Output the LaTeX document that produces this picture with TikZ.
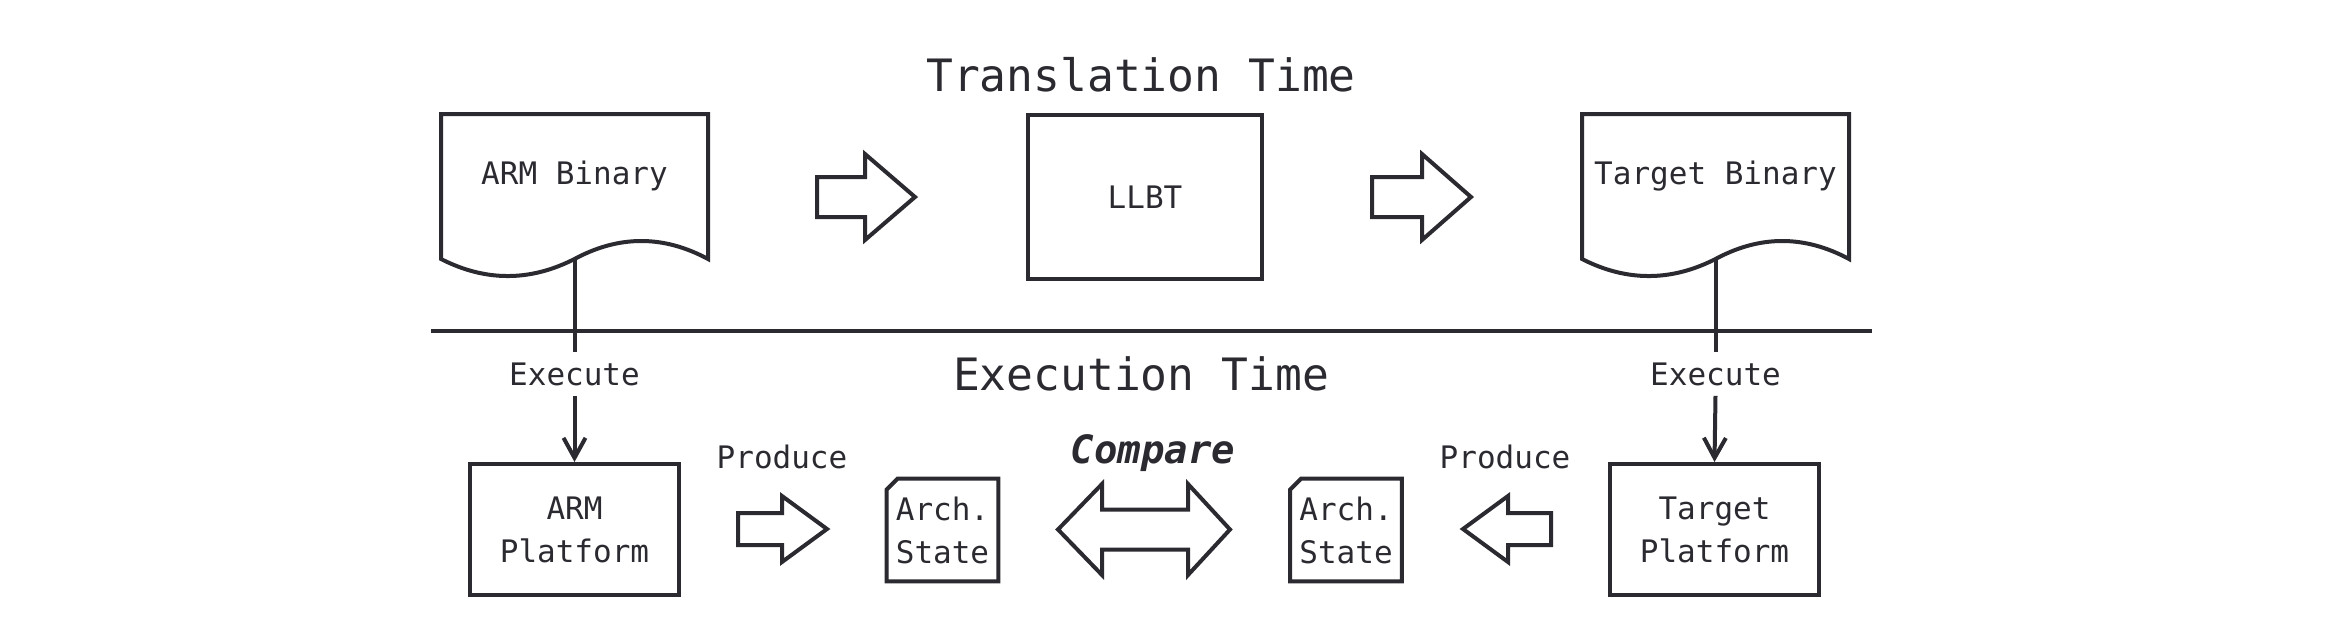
\documentclass[tikz,border=0pt]{standalone}
\usepackage{fontspec}
\setmainfont{DejaVu Sans Mono}
\usetikzlibrary{arrows.meta,calc}
\definecolor{ink}{RGB}{42,42,48}
\tikzset{
  shapeline/.style={draw=ink, line width=2pt, line join=miter},
  conn/.style={draw=ink, line width=2pt},
  txt/.style={text=ink, inner sep=0pt, font=\fontsize{15.5}{21.5}\selectfont},
  bigtxt/.style={text=ink, inner sep=0pt, font=\fontsize{22.3}{26}\selectfont},
  cmptxt/.style={text=ink, inner sep=0pt, font=\fontsize{19.5}{24}\selectfont\bfseries\itshape},
  boxnode/.style={draw=ink, line width=2pt, inner sep=0pt, align=center, text=ink,
     font=\fontsize{15.5}{21.5}\selectfont},
  plainbox/.style={inner sep=0pt, align=center, text=ink, font=\fontsize{15.5}{21.5}\selectfont},
  lbl/.style={txt, fill=white, inner xsep=2pt, inner ysep=5pt},
  tipv/.style={-{Straight Barb[length=10pt,width=11pt]}}
}
% right block arrow: xleft, xbase, xtip, yc, shaft half, head half
\newcommand\blkR[6]{\draw[shapeline] (#1,{#4-#5}) -- (#2,{#4-#5}) -- (#2,{#4-#6}) -- (#3,#4) -- (#2,{#4+#6}) -- (#2,{#4+#5}) -- (#1,{#4+#5}) -- cycle;}
% left block arrow: xtip, xbase, xright, yc, shaft half, head half
\newcommand\blkL[6]{\draw[shapeline] (#3,{#4-#5}) -- (#2,{#4-#5}) -- (#2,{#4-#6}) -- (#1,#4) -- (#2,{#4+#6}) -- (#2,{#4+#5}) -- (#3,{#4+#5}) -- cycle;}
% document shape: xc, half width, top, side bottom
\newcommand\docshape[4]{\draw[shapeline] ({#1-#2},#4) -- ({#1-#2},#3) -- ({#1+#2},#3) -- ({#1+#2},#4)
  .. controls ({#1+2*#2/3},{#4-24}) and ({#1+#2/3},{#4-24}) .. (#1,#4)
  .. controls ({#1-#2/3},{#4+22.7}) and ({#1-2*#2/3},{#4+22.7}) .. ({#1-#2},#4) -- cycle;}
\begin{document}
\begin{tikzpicture}[x=0.5pt,y=-0.5pt]
\useasboundingbox (0,0) rectangle (2342,622);

% titles
\node[bigtxt, anchor=base] (ttitle) at (1141,91) {Translation Time};
\node[bigtxt, anchor=base] (etitle) at (1141,390) {Execution Time};

% divider
\coordinate (divL) at (431,331);
\coordinate (divR) at (1872,331);
\draw[conn] (divL) -- (divR);

% documents
\docshape{574.5}{133.5}{114}{259}
\docshape{1715.5}{133.5}{114}{259}
\node[txt, anchor=base] (armbin) at (574.5,184) {ARM Binary};
\node[txt, anchor=base] (tgtbin) at (1715.5,184) {Target Binary};
\coordinate (armbin-bot) at (574.5,259);
\coordinate (tgtbin-bot) at (1715.5,259);

% LLBT
\node[boxnode, minimum width=117pt, minimum height=82pt] (llbt) at (1145,197) {LLBT};

% translation arrows
\blkR{817}{865}{915}{197}{20}{43}
\blkR{1372}{1422}{1471}{197}{20}{43}

% platforms
\node[boxnode, minimum width=104.5pt, minimum height=65.5pt] (armplat) at (574.5,529.5) {ARM\\Platform};
\node[boxnode, minimum width=104.5pt, minimum height=65.5pt] (tgtplat) at (1714.5,529.5) {Target\\Platform};

% execute connectors
\node[lbl, anchor=base] (ex1) at (574.5,385) {Execute};
\node[lbl, anchor=base] (ex2) at (1715.5,385) {Execute};
\draw[conn] (armbin-bot) -- (ex1.north);
\draw[conn, tipv] (ex1.south) -- (armplat.north);
\draw[conn] (tgtbin-bot) -- (ex2.north);
\draw[conn, tipv] (ex2.south) -- (tgtplat.north);

% arch states (card shape)
\node[plainbox, minimum width=55.5pt, minimum height=51pt] (arch1) at (942.5,530) {Arch.\\State};
\node[plainbox, minimum width=55.5pt, minimum height=51pt] (arch2) at (1346,530) {Arch.\\State};
\foreach \n in {arch1,arch2}{
  \draw[shapeline] ($(\n.north west)+(0,11)$) -- ($(\n.north west)+(11,0)$) -- (\n.north east) -- (\n.south east) -- (\n.south west) -- cycle;
}

% produce
\node[txt, anchor=base] (prod1) at (782,468) {Produce};
\node[txt, anchor=base] (prod2) at (1505,468) {Produce};
\blkR{738}{782}{827}{529}{16}{33}
\blkL{1463}{1508}{1551}{529}{16}{33}

% compare
\node[cmptxt, anchor=base] (cmp) at (1153,463) {Compare};
\draw[shapeline] (1058,529.5) -- (1102,484) -- (1102,509.5) -- (1188,509.5) -- (1188,484) -- (1230,529.5)
  -- (1188,575) -- (1188,549.5) -- (1102,549.5) -- (1102,575) -- cycle;
\end{tikzpicture}
\end{document}
